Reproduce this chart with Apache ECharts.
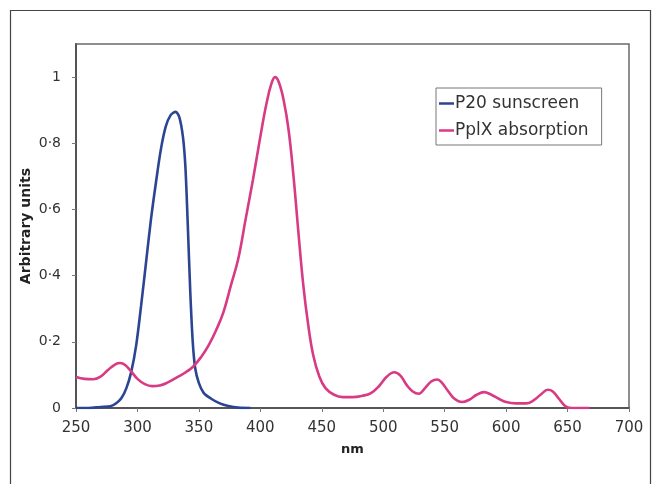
<!DOCTYPE html>
<html>
<head>
<meta charset="utf-8">
<script src="https://cdn.jsdelivr.net/npm/echarts@6/dist/echarts.min.js"></script>
<style>
html,body{margin:0;padding:0;background:#fff;}
#chart{width:652px;height:484px;}
</style>
</head>
<body>
<div id="chart"></div>
<script>
// ---- data ----
const seriesNames = ['P20 sunscreen', 'PplX absorption'];
const p20Wavelength = [250,260,270,278,283,287,291,295,299,303,307,311,315,319,323,327,331,334,337,339,341,343,345,347,350,354,360,367,374,382,392];
const p20Values     = [0,0,0.003,0.005,0.015,0.03,0.06,0.11,0.19,0.31,0.44,0.57,0.68,0.78,0.85,0.885,0.895,0.88,0.82,0.73,0.55,0.35,0.20,0.12,0.075,0.045,0.028,0.014,0.006,0.001,0];
const pplxWavelength = [250,257,264,270,276,282,286,290,295,300,306,312,318,324,330,338,345,352,358,364,370,376,382,388,394,400,405,409,412,415,419,423,427,431,435,439,443,448,453,460,467,475,483,490,497,503,509,514,519,524,529,534,539,544,548,553,558,564,570,576,582,588,594,600,608,616,622,628,634,638,643,648,653,660,668];
const pplxValues     = [0.094,0.088,0.087,0.095,0.115,0.132,0.136,0.13,0.11,0.088,0.072,0.066,0.068,0.076,0.088,0.105,0.124,0.155,0.19,0.235,0.29,0.37,0.45,0.57,0.69,0.82,0.92,0.98,1.0,0.985,0.93,0.84,0.70,0.53,0.37,0.25,0.16,0.095,0.06,0.04,0.033,0.033,0.037,0.045,0.068,0.095,0.108,0.098,0.07,0.05,0.043,0.06,0.08,0.086,0.075,0.05,0.028,0.018,0.025,0.04,0.048,0.04,0.028,0.018,0.014,0.014,0.022,0.04,0.055,0.05,0.028,0.006,0,0,0];
const xTickLabels = ['250','300','350','400','450','500','550','600','650','700'];
const yTickLabels = ['0','0·2','0·4','0·6','0·8','1'];
const xAxisTitle = 'nm';
const yAxisTitle = 'Arbitrary units';

const toPairs = (xs, ys) => xs.map((x, i) => [x, ys[i]]);

const chart = echarts.init(document.getElementById('chart'), null, {renderer: 'canvas'});
const FONT = 'DejaVu Sans';
chart.setOption({
  animation: false,
  backgroundColor: '#fff',
  graphic: [{
    type: 'rect', silent: true,
    shape: {x: 10.5, y: 10.5, width: 640, height: 520},
    style: {fill: 'none', stroke: '#444', lineWidth: 1.2}
  }],
  grid: {left: 76, top: 44, right: 23, bottom: 76, show: true, borderColor: '#6a6a6a', borderWidth: 1.5, backgroundColor: 'transparent'},
  legend: {
    orient: 'vertical', left: 436, top: 88,
    data: seriesNames,
    icon: 'rect', itemWidth: 15, itemHeight: 2.5, itemGap: 10,
    borderColor: '#777', borderWidth: 1, padding: [7, 13, 6, 3],
    backgroundColor: '#fff',
    textStyle: {fontFamily: FONT, fontSize: 17, color: '#333', padding: [0, 0, 0, -4]}
  },
  xAxis: {
    type: 'value', min: 250, max: 700, interval: 50,
    name: xAxisTitle, nameLocation: 'middle', nameGap: 35,
    nameTextStyle: {fontFamily: FONT, fontWeight: 'bold', fontSize: 13, color: '#222'},
    axisLine: {show: true, lineStyle: {color: '#555', width: 2}},
    axisTick: {show: true, length: 4, lineStyle: {color: '#777'}},
    axisLabel: {
      margin: 13, fontFamily: FONT, fontSize: 15, color: '#333',
      formatter: v => xTickLabels[Math.round((v - 250) / 50)] || ''
    },
    splitLine: {show: false}
  },
  yAxis: {
    type: 'value', min: 0, max: 1.1, interval: 0.2,
    name: yAxisTitle, nameLocation: 'middle', nameGap: 43, nameRotate: 90, nameMoveOverlap: false,
    nameTextStyle: {fontFamily: FONT, fontWeight: 'bold', fontSize: 14, color: '#222'},
    axisLine: {show: true, lineStyle: {color: '#555', width: 2}},
    axisTick: {show: true, length: 4, lineStyle: {color: '#777'}},
    axisLabel: {
      margin: 15, fontFamily: FONT, fontSize: 14, color: '#333', showMaxLabel: false,
      formatter: v => { const i = Math.round(v / 0.2); return Math.abs(v - i * 0.2) < 1e-6 ? (yTickLabels[i] || '') : ''; }
    },
    splitLine: {show: false}
  },
  series: [
    {
      name: seriesNames[0], type: 'line', smooth: 0.3, symbol: 'none',
      data: toPairs(p20Wavelength, p20Values),
      lineStyle: {color: '#2b4592', width: 2.6}, itemStyle: {color: '#2b4592'}
    },
    {
      name: seriesNames[1], type: 'line', smooth: 0.4, symbol: 'none',
      data: toPairs(pplxWavelength, pplxValues),
      lineStyle: {color: '#d83a84', width: 2.6}, itemStyle: {color: '#d83a84'}
    }
  ]
});
</script>
</body>
</html>
